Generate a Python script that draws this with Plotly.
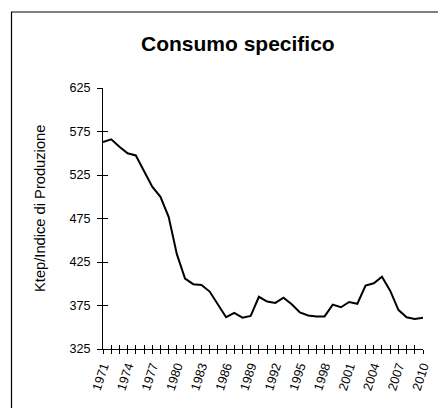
import plotly.graph_objects as go

years = list(range(1971, 2011))
consumo = [563, 566, 557.5, 550, 547.5, 529, 511.5, 500, 477, 434,
           406, 399.5, 398.5, 391, 375.5, 361.5, 366.5, 361, 363, 385,
           379.5, 378, 384, 376.5, 367, 363.5, 362.5, 362.5, 376, 373,
           379, 377, 398, 400.5, 408, 392, 370, 361.5, 359.5, 361]

title_text = "Consumo specifico"
y_title = "Ktep/Indice di Produzione"
y_ticks = [325, 375, 425, 475, 525, 575, 625]
x_labels = [str(y) if (y - 1971) % 3 == 0 else "" for y in years]

# page body has an 8px margin: lay out in window pixels, offset by 8
OFF = 8
W, H = 446 - OFF, 408 - OFF
L, T = 103 - OFF, 88 - OFF
pw, ph = 320, 261
R, B = W - L - pw, H - T - ph

def px_x(p):
    return (p - OFF - L) / pw

def px_y(p):
    return (H - B - (p - OFF)) / ph

fig = go.Figure()
fig.add_trace(go.Scatter(x=years, y=consumo, mode="lines",
                         line=dict(color="black", width=2),
                         showlegend=False, hoverinfo="skip"))
# invisible trace for overlay axes (inside tick halves)
fig.add_trace(go.Scatter(x=[years[0]], y=[y_ticks[0]], xaxis="x2", yaxis="y2",
                         mode="markers", marker=dict(opacity=0),
                         showlegend=False, hoverinfo="skip"))

font = "Arial, Liberation Sans, sans-serif"
fig.update_layout(
    width=W, height=H,
    margin=dict(l=L, r=R, t=T, b=B),
    paper_bgcolor="white", plot_bgcolor="white",
    font=dict(family=font, color="black"),
    xaxis=dict(range=[1971, 2010], tickmode="array", tickvals=years,
               ticktext=x_labels, tickangle=-72, ticks="outside",
               ticklen=4, tickcolor="black", tickwidth=1,
               showline=True, linecolor="black", linewidth=1,
               showgrid=False, zeroline=False,
               tickfont=dict(size=12.6, family=font, color="black")),
    yaxis=dict(range=[325, 625], tickmode="array", tickvals=y_ticks,
               ticks="outside", ticklen=5, tickcolor="black", tickwidth=1,
               showline=True, linecolor="black", linewidth=1,
               showgrid=False, zeroline=False, ticklabelstandoff=4,
               tickfont=dict(size=12.6, family=font, color="black")),
    xaxis2=dict(range=[1971, 2010], overlaying="x", anchor="y2",
                tickmode="array", tickvals=years, ticktext=[""] * len(years),
                ticks="inside", ticklen=4, tickcolor="black", tickwidth=1,
                showgrid=False, zeroline=False, showline=False, side="bottom"),
    yaxis2=dict(range=[325, 625], overlaying="y", anchor="x2",
                tickmode="array", tickvals=y_ticks, ticktext=[""] * len(y_ticks),
                ticks="inside", ticklen=5, tickcolor="black", tickwidth=1,
                showgrid=False, zeroline=False, showline=False, side="left"),
    annotations=[
        dict(text="<b>" + title_text + "</b>", xref="paper", yref="paper",
             x=px_x(238), y=px_y(44), xanchor="center", yanchor="middle",
             showarrow=False, font=dict(size=21, family=font, color="black")),
        dict(text=y_title, xref="paper", yref="paper", textangle=-90,
             x=px_x(40), y=px_y(209), xanchor="center", yanchor="middle",
             showarrow=False, font=dict(size=14.7, family=font, color="black")),
    ],
    shapes=[dict(type="rect", xref="paper", yref="paper",
                 x0=px_x(11.5), x1=px_x(480), y0=px_y(12), y1=px_y(440),
                 line=dict(color="black", width=1.2), fillcolor="rgba(0,0,0,0)",
                 layer="below")],
)

fig.write_html("out.html")
